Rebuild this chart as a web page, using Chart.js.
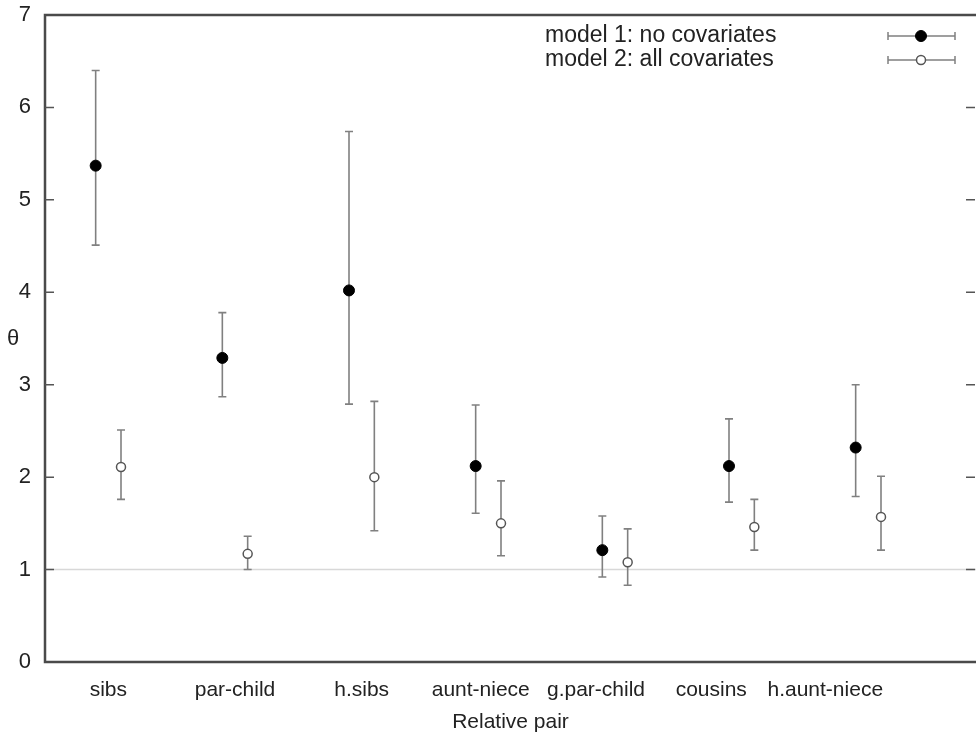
<!DOCTYPE html>
<html lang="en">
<head>
    <title>Relative pair estimates</title>
    <script src="https://cdn.jsdelivr.net/npm/chart.js"></script>
    <style>
        body { margin: 0; background: #fff; }
        canvas { display: block; }
    </style>
</head>
<body>
    <canvas id="pairChart" width="976" height="736"></canvas>

    <script>
        // categories and where their labels sit on the x axis
        const categories = ['sibs', 'par-child', 'h.sibs', 'aunt-niece', 'g.par-child', 'cousins', 'h.aunt-niece'];
        const labelPos = [0.50, 1.50, 2.50, 3.44, 4.35, 5.26, 6.16];
        const yTicks = [0, 1, 2, 3, 4, 5, 6, 7];

        // model 1: no covariates
        const m1Est  = [5.37, 3.29, 4.02, 2.12, 1.21, 2.12, 2.32];
        const m1Low  = [4.51, 2.87, 2.79, 1.61, 0.92, 1.73, 1.79];
        const m1High = [6.40, 3.78, 5.74, 2.78, 1.58, 2.63, 3.00];

        // model 2: all covariates
        const m2Est  = [2.11, 1.17, 2.00, 1.50, 1.08, 1.46, 1.57];
        const m2Low  = [1.76, 1.00, 1.42, 1.15, 0.83, 1.21, 1.21];
        const m2High = [2.51, 1.36, 2.82, 1.96, 1.44, 1.76, 2.01];

        const FONT = 'Liberation Sans, Arial, sans-serif';
        const TEXT = '#222';

        function points(est, shift) {
            return est.map((v, i) => ({ x: i + 0.5 + shift, y: v }));
        }

        // gnuplot-like frame, y=1 line, inward ticks, error bars, legend, theta label
        const decor = {
            id: 'decor',
            beforeDatasetsDraw(chart) {
                const { ctx, chartArea: a, scales: { x, y } } = chart;
                ctx.save();

                // reference line at 1
                ctx.strokeStyle = '#d8d8d8';
                ctx.lineWidth = 1.5;
                ctx.beginPath();
                ctx.moveTo(a.left, y.getPixelForValue(1));
                ctx.lineTo(a.right, y.getPixelForValue(1));
                ctx.stroke();

                // frame (right edge falls off the canvas, as in the original)
                ctx.strokeStyle = '#4a4a4a';
                ctx.lineWidth = 2.5;
                ctx.beginPath();
                ctx.moveTo(a.right + 4, a.top);
                ctx.lineTo(a.left, a.top);
                ctx.lineTo(a.left, a.bottom);
                ctx.lineTo(a.right + 4, a.bottom);
                ctx.stroke();

                // inward ticks left and right
                ctx.strokeStyle = '#555';
                ctx.lineWidth = 1.5;
                yTicks.forEach(t => {
                    if (t === 0 || t === 7) return;
                    const py = y.getPixelForValue(t);
                    ctx.beginPath();
                    ctx.moveTo(a.left, py); ctx.lineTo(a.left + 9, py);
                    ctx.moveTo(a.right - 1, py); ctx.lineTo(a.right - 10, py);
                    ctx.stroke();
                });

                // error bars
                ctx.strokeStyle = '#808080';
                ctx.lineWidth = 1.6;
                chart.data.datasets.forEach(ds => {
                    ds.data.forEach((p, i) => {
                        const px = x.getPixelForValue(p.x);
                        const lo = y.getPixelForValue(ds.low[i]);
                        const hi = y.getPixelForValue(ds.high[i]);
                        ctx.beginPath();
                        ctx.moveTo(px, lo); ctx.lineTo(px, hi);
                        ctx.moveTo(px - 4, lo); ctx.lineTo(px + 4, lo);
                        ctx.moveTo(px - 4, hi); ctx.lineTo(px + 4, hi);
                        ctx.stroke();
                    });
                });

                // theta label
                ctx.fillStyle = TEXT;
                ctx.font = '22px ' + FONT;
                ctx.textAlign = 'center';
                ctx.textBaseline = 'middle';
                ctx.fillText('θ', 13, (a.top + a.bottom) / 2);

                // legend
                const rows = [
                    { text: 'model 1: no covariates', ds: chart.data.datasets[0], y: 36 },
                    { text: 'model 2: all covariates', ds: chart.data.datasets[1], y: 60 }
                ];
                rows.forEach(r => {
                    ctx.fillStyle = TEXT;
                    ctx.font = '23px ' + FONT;
                    ctx.textAlign = 'left';
                    ctx.fillText(r.text, 545, r.y);
                    ctx.strokeStyle = '#808080';
                    ctx.lineWidth = 1.5;
                    ctx.beginPath();
                    ctx.moveTo(888, r.y); ctx.lineTo(955, r.y);
                    ctx.moveTo(888, r.y - 4); ctx.lineTo(888, r.y + 4);
                    ctx.moveTo(955, r.y - 4); ctx.lineTo(955, r.y + 4);
                    ctx.stroke();
                    ctx.beginPath();
                    ctx.arc(921, r.y, r.ds.pointRadius, 0, Math.PI * 2);
                    ctx.fillStyle = r.ds.pointBackgroundColor;
                    ctx.fill();
                    ctx.strokeStyle = r.ds.pointBorderColor;
                    ctx.lineWidth = r.ds.pointBorderWidth;
                    ctx.stroke();
                });

                ctx.restore();
            }
        };

        new Chart(document.getElementById('pairChart'), {
            type: 'scatter',
            data: {
                datasets: [{
                    label: 'model 1: no covariates',
                    data: points(m1Est, -0.1),
                    low: m1Low,
                    high: m1High,
                    pointRadius: 5.5,
                    pointBackgroundColor: '#000',
                    pointBorderColor: '#000',
                    pointBorderWidth: 1
                }, {
                    label: 'model 2: all covariates',
                    data: points(m2Est, 0.1),
                    low: m2Low,
                    high: m2High,
                    pointRadius: 4.5,
                    pointBackgroundColor: '#fff',
                    pointBorderColor: '#555',
                    pointBorderWidth: 1.5
                }]
            },
            options: {
                responsive: false,
                animation: false,
                layout: { autoPadding: false, padding: { top: 15, right: 0, left: 0, bottom: 0 } },
                plugins: {
                    legend: { display: false },
                    tooltip: { enabled: false }
                },
                scales: {
                    x: {
                        type: 'linear',
                        min: 0,
                        max: 7.35,
                        grid: { display: false, drawTicks: false },
                        border: { display: false },
                        afterBuildTicks: s => { s.ticks = labelPos.map(v => ({ value: v })); },
                        afterFit: s => { s.height = 74; s.paddingLeft = 0; s.paddingRight = 0; },
                        ticks: {
                            autoSkip: false,
                            maxRotation: 0,
                            padding: 16,
                            color: TEXT,
                            font: { family: FONT, size: 21 },
                            callback: (v, i) => categories[i]
                        },
                        title: {
                            display: true,
                            text: 'Relative pair',
                            color: TEXT,
                            font: { family: FONT, size: 21 },
                            padding: { top: 0, bottom: 1 }
                        }
                    },
                    y: {
                        min: 0,
                        max: 7,
                        grid: { display: false, drawTicks: false },
                        border: { display: false },
                        afterBuildTicks: s => { s.ticks = yTicks.map(v => ({ value: v })); },
                        afterFit: s => { s.width = 45; s.paddingTop = 0; s.paddingBottom = 0; },
                        ticks: {
                            padding: 14,
                            color: TEXT,
                            font: { family: FONT, size: 22 }
                        }
                    }
                }
            },
            plugins: [decor]
        });
    </script>
</body>
</html>
